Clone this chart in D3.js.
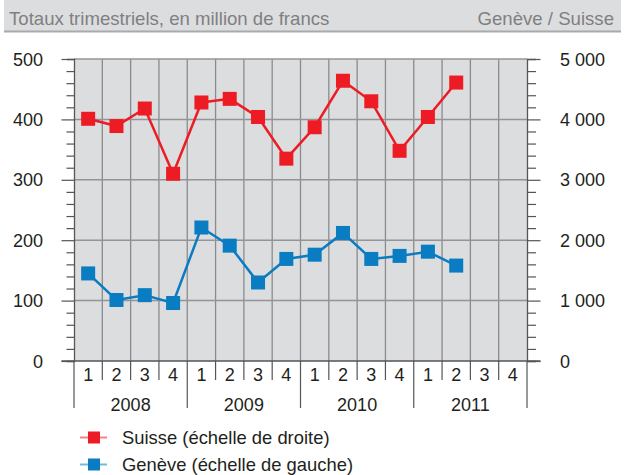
<!DOCTYPE html>
<html><head><meta charset="utf-8">
<script src="https://cdn.jsdelivr.net/npm/d3@7"></script>
<style>
html,body{margin:0;padding:0;background:#fff;}
svg{display:block;font-family:"Liberation Sans",Arial,sans-serif;}
</style></head>
<body><svg id="c" width="632" height="475"></svg>
<script>
const years = ["2008","2009","2010","2011"];
const quarters = ["1","2","3","4"];
const suisse = [4010, 3890, 4180, 3100, 4280, 4340, 4040, 3350, 3870, 4640, 4300, 3480, 4040, 4610];
const geneve = [145, 101, 109, 96, 221, 191, 130, 169, 176, 212, 169, 174, 181, 158];
const leftTicks = [0,100,200,300,400,500];
const rightTicks = [0,1000,2000,3000,4000,5000];
const title = "Totaux trimestriels, en million de francs";
const subtitle = "Genève / Suisse";
const legendLabels = ["Suisse (échelle de droite)", "Genève (échelle de gauche)"];

const red = "#ed1c24", blue = "#0a7cc2";
const svg = d3.select("#c");
const L = 74, R = 527, T = 59, B = 361;

const keys = [];
years.forEach(y => quarters.forEach(q => keys.push(y + "-" + q)));
const x = d3.scaleBand().domain(keys).range([L, R]).padding(0);
const yL = d3.scaleLinear().domain([0,500]).range([B, T]);
const yR = d3.scaleLinear().domain([0,5000]).range([B, T]);
const loc = d3.formatLocale({decimal:",", thousands:" ", grouping:[3], currency:["",""]});
const fmtR = loc.format(",");

// header
svg.append("rect").attr("x",4).attr("y",0).attr("width",617).attr("height",31).attr("fill","#dcdddf");
svg.append("line").attr("x1",4).attr("x2",621).attr("y1",31.5).attr("y2",31.5).attr("stroke","#a9aaac").attr("stroke-width",2);
svg.append("text").attr("x",9).attr("y",25).attr("font-size",18.6).attr("fill","#7f8082").text(title);
svg.append("text").attr("x",614).attr("y",25).attr("font-size",18.6).attr("fill","#7f8082").attr("text-anchor","end").text(subtitle);

// plot background
svg.append("rect").attr("x",L).attr("y",T).attr("width",R-L).attr("height",B-T).attr("fill","#dcdddf");

// vertical grid between quarters
const g = svg.append("g");
keys.slice(1).forEach(k => {
  g.append("line").attr("x1",x(k)).attr("x2",x(k)).attr("y1",T).attr("y2",B).attr("stroke","#8a8b8d").attr("stroke-width",1.3);
});
// horizontal grid
leftTicks.slice(1).forEach(v => {
  g.append("line").attr("x1",L).attr("x2",R).attr("y1",yL(v)).attr("y2",yL(v)).attr("stroke","#939496").attr("stroke-width",1.5);
});

// left axis
const axL = d3.axisLeft(yL).tickValues(d3.range(0,501,20)).tickSize(7).tickFormat("");
const gl = svg.append("g").attr("transform",`translate(${L},0)`).call(axL);
gl.select(".domain").attr("stroke","#555").attr("stroke-width",1.3);
gl.selectAll(".tick line").attr("stroke","#555").attr("stroke-width",1.2)
  .attr("x2", d => d % 100 === 0 ? -12.5 : -7.5);
svg.append("g").selectAll("text").data(leftTicks).join("text")
  .attr("x",43).attr("y",d=>yL(d)+6.5).attr("text-anchor","end").attr("font-size",18).attr("fill","#231f20").text(d=>d);

// right axis
const axR = d3.axisRight(yR).tickValues(d3.range(0,5001,200)).tickSize(9).tickFormat("");
const gr = svg.append("g").attr("transform",`translate(${R},0)`).call(axR);
gr.select(".domain").attr("stroke","#555").attr("stroke-width",1.3);
gr.selectAll(".tick line").attr("stroke","#555").attr("stroke-width",1.2)
  .attr("x2", d => d % 1000 === 0 ? 13.5 : 9);
svg.append("g").selectAll("text").data(rightTicks).join("text")
  .attr("x",560).attr("y",d=>yR(d)+6.5).attr("text-anchor","start").attr("font-size",18).attr("fill","#231f20").text(d=>fmtR(d));

// bottom axis line
svg.append("line").attr("x1",L-12.5).attr("x2",R+13.5).attr("y1",B).attr("y2",B).attr("stroke","#555").attr("stroke-width",1.3);

// x separators
keys.forEach((k,i) => {
  const isYear = i % 4 === 0;
  svg.append("line").attr("x1",x(k)).attr("x2",x(k)).attr("y1",B).attr("y2",isYear?408:380).attr("stroke","#555").attr("stroke-width",1.2);
});
svg.append("line").attr("x1",R).attr("x2",R).attr("y1",B).attr("y2",408).attr("stroke","#555").attr("stroke-width",1.2);

// quarter labels
svg.append("g").selectAll("text").data(keys).join("text")
  .attr("x",k=>x(k)+x.bandwidth()/2).attr("y",381).attr("text-anchor","middle").attr("font-size",18).attr("fill","#231f20")
  .text(k=>k.split("-")[1]);
// year labels
svg.append("g").selectAll("text").data(years).join("text")
  .attr("x",y=>x(y+"-1")+2*x.bandwidth()).attr("y",411).attr("text-anchor","middle").attr("font-size",18).attr("fill","#231f20")
  .text(y=>y);

// series
function drawSeries(vals, scale, color){
  const pts = vals.map((v,i)=>({k:keys[i], v}));
  svg.append("path").datum(pts)
    .attr("d", d3.line().x(d=>x(d.k)+x.bandwidth()/2).y(d=>scale(d.v)))
    .attr("fill","none").attr("stroke",color).attr("stroke-width",2.5);
  svg.append("g").selectAll("rect").data(pts).join("rect")
    .attr("x",d=>x(d.k)+x.bandwidth()/2-7).attr("y",d=>scale(d.v)-7)
    .attr("width",14).attr("height",14).attr("fill",color);
}
drawSeries(suisse, yR, red);
drawSeries(geneve, yL, blue);

// legend
const leg = [{label:legendLabels[0], color:red, y:437.5},{label:legendLabels[1], color:blue, y:464.5}];
leg.forEach(l => {
  svg.append("line").attr("x1",80).attr("x2",107).attr("y1",l.y).attr("y2",l.y).attr("stroke",l.color).attr("stroke-opacity",0.55).attr("stroke-width",2);
  svg.append("rect").attr("x",88).attr("y",l.y-6).attr("width",12).attr("height",12).attr("fill",l.color);
  svg.append("text").attr("x",122).attr("y",l.y+6.5).attr("font-size",18.4).attr("fill","#231f20").text(l.label);
});
</script></body></html>
